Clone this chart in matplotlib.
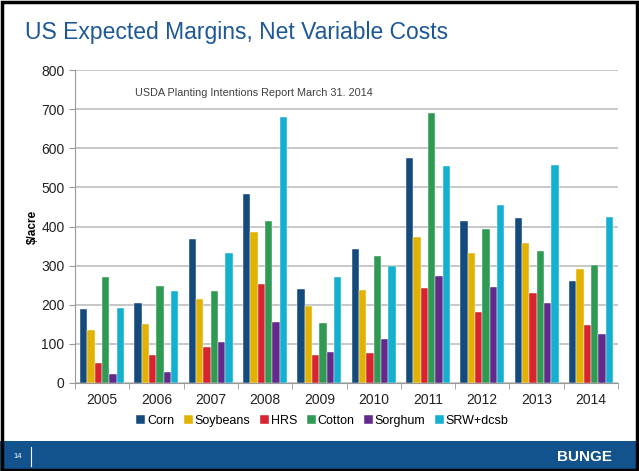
import numpy as np
import matplotlib
matplotlib.use("Agg")
import matplotlib.pyplot as plt
from matplotlib.patches import Rectangle

plt.rcParams['font.family'] = ['Liberation Sans', 'DejaVu Sans']

# data ($/acre)
years = ['2005', '2006', '2007', '2008', '2009', '2010', '2011', '2012', '2013', '2014']
series_names = ['Corn', 'Soybeans', 'HRS', 'Cotton', 'Sorghum', 'SRW+dcsb']
corn = [189, 204, 369, 483, 240, 342, 576, 414, 423, 261]
soybeans = [136, 151, 215, 386, 197, 238, 372, 333, 358, 291]
hrs = [51, 72, 92, 254, 72, 77, 244, 182, 230, 147]
cotton = [272, 248, 236, 415, 154, 324, 690, 393, 338, 302]
sorghum = [24, 27, 106, 157, 79, 112, 274, 245, 204, 125]
srw = [192, 236, 331, 680, 271, 299, 554, 456, 557, 425]
yticks = [0, 100, 200, 300, 400, 500, 600, 700, 800]

colors = ['#154b7c', '#e2b203', '#d82330', '#2f9a53', '#632a8c', '#14b0d0']

W, H = 639, 471
fig = plt.figure(figsize=(W / 100, H / 100), dpi=100)
fig.patch.set_facecolor('white')

# footer band and frame
fig.add_artist(Rectangle((0, 0), 1, 30 / H, transform=fig.transFigure,
                         facecolor='#12538e', edgecolor='none'))
fig.add_artist(Rectangle((1.5 / W, 1.5 / H), 1 - 4 / W, 1 - 3.5 / H, transform=fig.transFigure,
                         facecolor='none', edgecolor='black', linewidth=2.5))
fig.add_artist(plt.Line2D([31 / W, 31 / W], [5 / H, 24 / H], transform=fig.transFigure,
                          color='white', linewidth=0.8))
fig.text(18 / W, 14 / H, '14', color='white', fontsize=5.5, va='center', ha='center')
fig.text(612 / W, 14 / H, 'BUNGE', color='white', fontsize=11, fontweight='bold',
         va='center', ha='right')

fig.text(25 / W, 1 - 33 / H, 'US Expected Margins, Net Variable Costs', color='#1c5896',
         fontsize=16.5, va='center', ha='left')

ax = fig.add_axes([75 / W, 1 - 383 / H, (618 - 75) / W, (383 - 70) / H])
data = [corn, soybeans, hrs, cotton, sorghum, srw]
x = np.arange(len(years))
bw = 0.135
for i, (name, vals) in enumerate(zip(series_names, data)):
    ax.bar(x + (i - 2.5) * bw, vals, width=bw, color=colors[i], label=name,
           edgecolor='white', linewidth=0.3, zorder=3)

ax.set_xlim(-0.5, len(years) - 0.5)
ax.set_ylim(0, 800)
ax.set_yticks(yticks)
ax.yaxis.grid(True, color='#bdbdbd', linewidth=1.2, zorder=0)
ax.set_xticks(x)
ax.set_xticklabels(years)
ax.set_xticks(np.arange(-0.5, len(years)), minor=True)
ax.tick_params(axis='x', which='major', length=0, labelsize=10, pad=7, colors='#222222')
ax.tick_params(axis='x', which='minor', length=4, color='#999999')
ax.tick_params(axis='y', length=4, color='#999999', labelsize=10, colors='#222222')
for s in ['top', 'right']:
    ax.spines[s].set_visible(False)
ax.spines['left'].set_color('#999999')
ax.spines['bottom'].set_color('#999999')
ax.set_ylabel('$/acre', fontsize=8.5, fontweight='bold', labelpad=2)

ax.text(0.111, 0.925, 'USDA Planting Intentions Report March 31. 2014', transform=ax.transAxes,
        fontsize=7.8, color='#404040', va='center', ha='left')

leg = ax.legend(loc='center', bbox_to_anchor=(0.456, (383 - 421) / (383 - 70)), ncol=6,
                frameon=False, fontsize=9, handlelength=0.7, handleheight=0.7,
                handletextpad=0.15, columnspacing=0.78)

fig.savefig('out.png', dpi=100)
